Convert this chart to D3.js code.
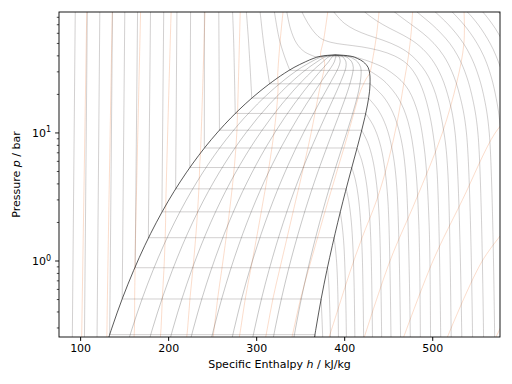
<!DOCTYPE html>
<html>
<head>
<meta charset="utf-8">
<script src="https://cdn.jsdelivr.net/npm/d3@7"></script>
<style>
  body { margin: 0; background: #fff; }
  text { font-family: "DejaVu Sans", sans-serif; }
</style>
</head>
<body>
<svg id="chart" width="512" height="384"></svg>
<script>
// R134a saturation table: T [C], p [bar], h [kJ/kg], s [kJ/kg/K]
let satT  = [-60, -50, -40, -30, -20, -10, 0, 10, 20, 30, 40, 50, 60, 70, 80, 85, 90, 95, 98, 100, 101.06]
let satP  = [0.159, 0.299, 0.512, 0.844, 1.327, 2.006, 2.928, 4.146, 5.717, 7.702, 10.166, 13.179, 16.818, 21.163, 26.332, 29.26, 32.442, 35.9, 38.1, 39.72, 40.59]
let satHL = [123.4, 136.0, 148.1, 160.8, 173.6, 186.7, 200.0, 213.6, 227.5, 241.7, 256.4, 271.6, 287.5, 304.3, 322.4, 332.2, 342.9, 355.8, 364.6, 373.3, 389.6]
let satHV = [361.6, 368.0, 374.0, 380.3, 386.6, 392.7, 398.6, 404.3, 409.7, 414.8, 419.4, 423.4, 426.6, 428.8, 429.4, 428.9, 427.2, 421.8, 415.2, 407.8, 389.6]
let satSL = [0.688, 0.740, 0.7956, 0.8486, 0.9002, 0.9506, 1.0, 1.0485, 1.0963, 1.1437, 1.1909, 1.2382, 1.2864, 1.336, 1.389, 1.417, 1.448, 1.482, 1.507, 1.530, 1.5524]
let satSV = [1.791, 1.777, 1.7655, 1.7519, 1.7413, 1.7334, 1.7271, 1.7218, 1.7179, 1.7142, 1.7111, 1.7080, 1.7033, 1.6951, 1.6775, 1.665, 1.6477, 1.627, 1.607, 1.589, 1.5524]

let qualities = [0.1, 0.2, 0.3, 0.4, 0.5, 0.6, 0.7, 0.8, 0.9]

// isotherms [h, p]: liquid branch (top -> saturation), vapour branch (saturation -> bottom)
let isoT = [-86.9, -75.25, -63.6, -51.95, -40.3, -28.65, -17.0, -5.35, 6.3, 17.95, 29.6, 41.25, 52.9, 64.55, 76.2, 87.85, 99.5,
            111.15, 122.8, 134.45, 146.1, 157.75, 169.4, 181.05, 192.7, 204.35, 216.0]
let isoLiq = [
  [[94.5, 95], [91.0, 0.2]],
  [[108.2, 95], [104.8, 0.2]],
  [[122.4, 95], [119.1, 0.2]],
  [[136.8, 95], [133.6, 0.266]],
  [[150.8, 95], [147.8, 0.505]],
  [[165.3, 95], [162.5, 0.886]],
  [[180.0, 95], [177.5, 1.52]],
  [[195.0, 95], [192.9, 2.42]],
  [[210.0, 95], [208.5, 3.66]],
  [[225.5, 95], [224.6, 5.37]],
  [[241.2, 95], [241.1, 7.63]],
  [[257.5, 95], [258.3, 10.5]],
  [[273.0, 95], [274.5, 50], [276.2, 14.2]],
  [[288.5, 95], [291.5, 50], [295.0, 18.7]],
  [[304.0, 95], [308.5, 50], [315.2, 24.2]],
  [[320.0, 95], [326.0, 55], [332.0, 40], [338.3, 30.8]],
  [[334.0, 95], [339.0, 65], [346.0, 50], [355.0, 43], [367.0, 39.4]],
  null, null, null, null, null, null, null, null, null, null
]
let isoVap = [
  null, null, null,
  [[366.8, 0.266], [367.3, 0.2]],
  [[373.8, 0.505], [374.8, 0.35], [375.6, 0.25], [376.0, 0.2]],
  [[381.1, 0.886], [382.3, 0.7], [383.3, 0.5], [384.2, 0.3], [384.6, 0.2]],
  [[388.5, 1.52], [390.3, 1.2], [391.7, 0.9], [392.8, 0.55], [393.6, 0.2]],
  [[395.5, 2.42], [397.5, 1.94], [399.3, 1.45], [400.6, 0.97], [401.8, 0.5], [402.7, 0.2]],
  [[402.2, 3.66], [405.2, 2.93], [407.6, 2.2], [409.5, 1.46], [411.1, 0.73], [412.3, 0.2]],
  [[408.6, 5.37], [412.7, 4.3], [415.9, 3.22], [418.4, 2.15], [420.6, 1.07], [422.2, 0.2]],
  [[414.6, 7.63], [419.9, 6.1], [424.0, 4.58], [427.4, 3.05], [430.1, 1.53], [432.3, 0.2]],
  [[419.9, 10.5], [426.8, 8.4], [432.2, 6.3], [436.4, 4.2], [439.9, 2.1], [442.7, 0.2]],
  [[424.4, 14.2], [433.2, 11.36], [440.1, 8.52], [445.4, 5.68], [449.8, 2.84], [453.3, 0.2]],
  [[427.6, 18.7], [439.0, 14.96], [447.7, 11.22], [454.4, 7.48], [459.8, 3.74], [464.2, 0.2]],
  [[429.3, 24.2], [444.1, 19.36], [455.1, 14.52], [463.5, 9.68], [469.9, 4.84], [475.3, 0.2]],
  [[427.9, 30.8], [438.4, 27.72], [447.5, 24.64], [461.9, 18.48], [472.4, 12.32], [480.2, 6.16], [484.7, 2], [486.6, 0.2]],
  [[411.0, 39.4], [422.1, 37.43], [431.8, 35.46], [447.8, 31.52], [469.3, 23.64], [481.9, 15.76], [490.7, 7.88], [496.4, 2], [498.1, 0.2]],
  [[350, 95], [355, 80], [363, 65], [373, 55], [385, 51], [400, 49], [420, 47], [440, 44], [457, 40], [470.5, 35], [479, 30],
   [485.5, 25], [491, 20], [496, 15], [500.8, 10], [505.5, 5], [509.8, 0.2]],
  [[385, 95], [390, 85], [400, 72], [412, 64], [427, 58], [444, 53], [462, 47], [477, 40], [492.5, 30], [504, 20], [513.4, 10],
   [517.7, 5], [521.7, 0.2]],
  [[418, 95], [426, 85], [437, 75], [451, 66], [467, 58], [482, 50], [496.5, 40], [508, 30], [517.5, 20], [526, 10], [533.8, 0.2]],
  [[451, 95], [465, 80], [476.5, 70], [489.5, 60], [502, 50], [513, 40], [522.5, 30], [531, 20], [538.9, 10], [546, 0.2]],
  [[477, 95], [490, 80], [500, 70], [510, 60], [520, 50], [529, 40], [537.2, 30], [544.8, 20], [551.9, 10], [558.5, 0.2]],
  [[498, 95], [510, 80], [518.5, 70], [527, 60], [535.5, 50], [543.5, 40], [551, 30], [558.2, 20], [564.8, 10], [571.1, 0.2]],
  [[518, 95], [528.5, 80], [536, 70], [543.5, 60], [551, 50], [558.4, 40], [565.3, 30], [571.8, 20], [578, 10], [584, 0.2]],
  [[535, 95], [545.5, 80], [559, 60], [572.5, 40], [585, 20], [596.7, 0.2]],
  [[553, 95], [562.5, 80], [575, 60], [587, 40], [609, 0.2]],
  [[571, 95], [580, 80], [591, 60], [622, 0.2]]
]

// isentropes [h, p] outside the two-phase region (top -> saturation or bottom)
let isoS = [0.585, 0.72, 0.855, 0.99, 1.125, 1.26, 1.395, 1.53, 1.665, 1.80, 1.935, 2.07, 2.205, 2.34]
let isoSOut = [
  [[107.6, 95], [101.5, 0.2]],
  [[136.6, 95], [130.3, 0.23]],
  [[168.8, 95], [162.3, 0.88]],
  [[203.5, 95], [197.3, 2.72]],
  [[242.0, 95], [236.7, 6.97]],
  [[282.0, 95], [278.9, 14.8]],
  [[331.0, 95], [327.0, 50], [324.4, 26.9]],
  [[382.0, 95], [377.0, 55], [373.3, 39.72]],
  [[440.0, 95], [437.0, 60], [433.0, 40], [428.9, 29.26]],
  [[478, 95], [476, 60], [473, 40], [468, 25], [460, 12], [450, 6], [437, 3], [420, 1.5], [406, 0.8], [392, 0.4], [378, 0.2]],
  [[536, 95], [536, 50], [528, 25], [511.5, 10], [481.5, 3], [452, 1], [418, 0.2]],
  [[590, 14], [571.5, 10], [534.3, 3], [500.8, 1], [462, 0.2]],
  [[590, 2], [556.8, 1], [511, 0.2]],
  [[590, 0.45], [565, 0.2]]
]

let hTicks = [100, 200, 300, 400, 500]
let pMajor = [1, 10]
let pMinor = [0.3, 0.4, 0.5, 0.6, 0.7, 0.8, 0.9, 2, 3, 4, 5, 6, 7, 8, 9, 20, 30, 40, 50, 60, 70, 80]

let plotL = 59, plotR = 500, plotT = 12, plotB = 337

let svg = d3.select("#chart")

let xScale = d3.scaleLinear().domain([76, 577]).range([plotL, plotR])
let yScale = d3.scaleLog().domain([0.255, 88]).range([plotB, plotT])

let line = d3.line()
  .x(d => xScale(d[0]))
  .y(d => yScale(d[1]))
  .curve(d3.curveCatmullRom.alpha(0.5))
let straight = d3.line()
  .x(d => xScale(d[0]))
  .y(d => yScale(d[1]))

svg.append("clipPath").attr("id", "clip")
   .append("rect")
   .attr("x", plotL).attr("y", plotT)
   .attr("width", plotR - plotL).attr("height", plotB - plotT)

let plot = svg.append("g").attr("clip-path", "url(#clip)")

// two-phase lever rule from the saturation table
let wet = (i, frac) => [satHL[i] + frac * (satHV[i] - satHL[i]), satP[i]]

// isentropes
let sColor = "rgba(240,130,70,0.5)"
isoS.forEach((s, k) => {
  let pts = isoSOut[k].slice()
  for (let i = satT.length - 1; i >= 0; i--) {
    if (satSL[i] < s && s < satSV[i] && satP[i] < pts[pts.length - 1][1]) {
      pts.push(wet(i, (s - satSL[i]) / (satSV[i] - satSL[i])))
    }
  }
  plot.append("path")
      .attr("d", line(pts))
      .attr("fill", "none")
      .attr("stroke", sColor)
      .attr("stroke-width", 0.55)
})

// isotherms
let tColor = "rgba(70,60,60,0.45)"
isoT.forEach((t, k) => {
  let liq = isoLiq[k], vap = isoVap[k]
  let g = plot.append("g")
              .attr("fill", "none")
              .attr("stroke", tColor)
              .attr("stroke-width", 0.55)
  if (liq) g.append("path").attr("d", line(liq))
  if (vap) g.append("path").attr("d", line(vap))
  if (liq && vap) g.append("path").attr("d", straight([liq[liq.length - 1], vap[0]]))
})

// quality lines
let qColor = "rgba(50,50,50,0.5)"
qualities.forEach(q => {
  let pts = satT.map((t, i) => wet(i, q))
  plot.append("path")
      .attr("d", line(pts))
      .attr("fill", "none")
      .attr("stroke", qColor)
      .attr("stroke-width", 0.55)
})

// saturation dome
let dome = satT.map((t, i) => [satHL[i], satP[i]])
  .concat(satT.map((t, i) => [satHV[i], satP[i]]).reverse().slice(1))
plot.append("path")
    .attr("d", line(dome))
    .attr("fill", "none")
    .attr("stroke", "#111")
    .attr("stroke-width", 0.7)

// axes frame
svg.append("rect")
   .attr("x", plotL).attr("y", plotT)
   .attr("width", plotR - plotL).attr("height", plotB - plotT)
   .attr("fill", "none").attr("stroke", "#000").attr("stroke-width", 0.9)

let xAxis = d3.axisBottom(xScale).tickValues(hTicks).tickSize(3.9).tickPadding(3)
let gx = svg.append("g")
   .attr("transform", "translate(0," + plotB + ")")
   .call(xAxis)
gx.select(".domain").remove()
gx.selectAll("text").style("font-size", "11px").attr("fill", "#000")

let gy = svg.append("g").attr("transform", "translate(" + plotL + ",0)")
gy.selectAll(".minor").data(pMinor).enter()
  .append("line")
  .attr("x1", -2.2).attr("x2", 0)
  .attr("y1", d => yScale(d)).attr("y2", d => yScale(d))
  .attr("stroke", "#000").attr("stroke-width", 0.7)
gy.selectAll(".major").data(pMajor).enter()
  .append("line")
  .attr("x1", -3.9).attr("x2", 0)
  .attr("y1", d => yScale(d)).attr("y2", d => yScale(d))
  .attr("stroke", "#000").attr("stroke-width", 0.9)
let labels = gy.selectAll(".lab").data(pMajor).enter()
  .append("text")
  .attr("x", -8)
  .attr("y", d => yScale(d) + 4)
  .attr("text-anchor", "end")
  .style("font-size", "11px")
labels.append("tspan").text("10")
labels.append("tspan")
  .attr("dy", -4.5)
  .style("font-size", "8px")
  .text(d => Math.round(Math.log10(d)))

// axis titles
let xt = svg.append("text")
   .attr("x", (plotL + plotR) / 2)
   .attr("y", 368)
   .attr("text-anchor", "middle")
   .style("font-size", "11px")
xt.append("tspan").text("Specific Enthalpy ")
xt.append("tspan").style("font-style", "italic").text("h")
xt.append("tspan").text(" / kJ/kg")

let yt = svg.append("text")
   .attr("transform", "translate(20," + ((plotT + plotB) / 2) + ") rotate(-90)")
   .attr("text-anchor", "middle")
   .style("font-size", "11px")
yt.append("tspan").text("Pressure ")
yt.append("tspan").style("font-style", "italic").text("p")
yt.append("tspan").text(" / bar")
</script>
</body>
</html>
